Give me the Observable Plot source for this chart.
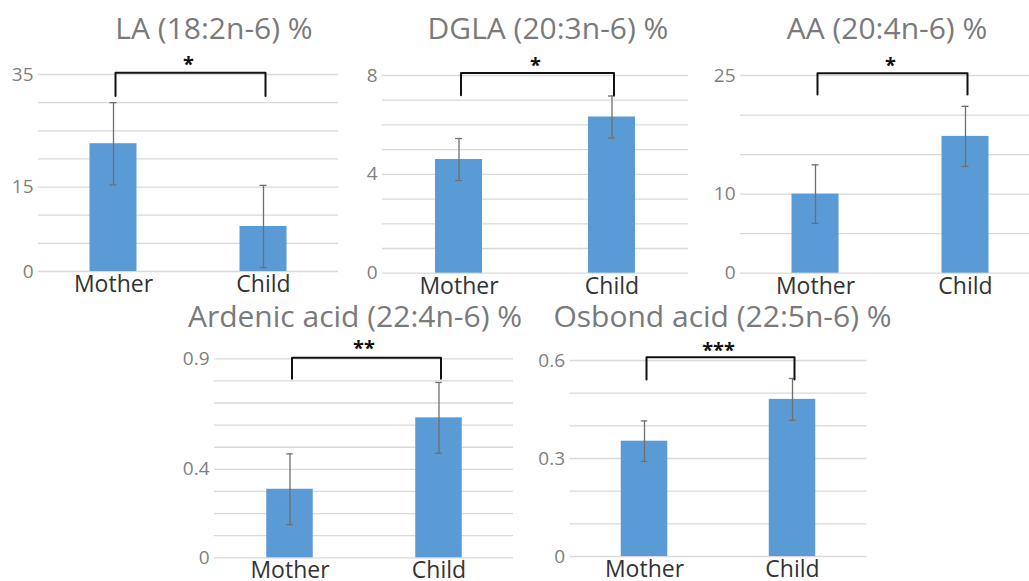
<!DOCTYPE html>
<html>
<head>
<meta charset="utf-8">
<script src="https://cdn.jsdelivr.net/npm/d3@7"></script>
<script src="https://cdn.jsdelivr.net/npm/@observablehq/plot@0.6"></script>
<style>
  html, body { margin: 0; padding: 0; background: #fff; overflow: hidden; }
  #wrap { position: relative; width: 1029px; height: 581px; overflow: hidden; background: #fff; font-family: "Open Sans", sans-serif; }
  .panel { position: absolute; }
  .ttl { position: absolute; transform: translateX(-50%); white-space: nowrap; color: #7a7a7a; font-size: 30px; line-height: 1; }
</style>
</head>
<body>
<div id="wrap"></div>
<script>
// ---- data ----
const groups = ["Mother", "Child"];
const titles = ["LA (18:2n-6) %", "DGLA (20:3n-6) %", "AA (20:4n-6) %", "Ardenic acid (22:4n-6) %", "Osbond acid (22:5n-6) %"];
const meanMother = [22.7, 4.6, 10.0, 0.31, 0.353];
const meanChild  = [8.0, 6.32, 17.3, 0.633, 0.481];
const errMother  = [7.3, 0.85, 3.7, 0.16, 0.062];
const errChild   = [7.3, 0.85, 3.8, 0.16, 0.064];
const yMax       = [35, 8, 25, 0.9, 0.6];
const gridStep   = [5, 1, 5, 0.1, 0.1];
const tickLabels = [[0, 15, 35], [0, 4, 8], [0, 10, 25], [0, 0.4, 0.9], [0, 0.3, 0.6]];
const stars      = ["*", "*", "*", "**", "***"];
const bracketTop = [35.3, 8.1, 25.3, 0.905, 0.61];
const bracketLeg = [31.2, 7.2, 22.6, 0.81, 0.542];

// ---- layout (pixels) ----
const layout = [
  {left: 0,   top: 40,  width: 350, height: 260, mL: 38,   mR: 12,   mT: 34,   mB: 29,   tx: 214,   ty: 13},
  {left: 340, top: 40,  width: 350, height: 260, mL: 42,   mR: 2,    mT: 35,   mB: 27.3, tx: 548,   ty: 13},
  {left: 690, top: 40,  width: 360, height: 260, mL: 50,   mR: 10,   mT: 35,   mB: 27.3, tx: 887,   ty: 13},
  {left: 160, top: 320, width: 360, height: 261, mL: 54,   mR: 7,    mT: 38.3, mB: 23.7, tx: 355,   ty: 301},
  {left: 520, top: 320, width: 360, height: 261, mL: 49.5, mR: 13.5, mT: 40,   mB: 25,   tx: 722.5, ty: 301}
];

const wrap = document.getElementById("wrap");

titles.forEach((title, i) => {
  const L = layout[i];
  const rows = groups.map((g, j) => ({
    group: g,
    mean: j === 0 ? meanMother[i] : meanChild[i],
    err: j === 0 ? errMother[i] : errChild[i]
  }));
  const bracket = [
    {group: groups[0], y: bracketLeg[i]},
    {group: groups[0], y: bracketTop[i]},
    {group: groups[1], y: bracketTop[i]},
    {group: groups[1], y: bracketLeg[i]}
  ];
  const frameW = L.width - L.mL - L.mR;
  const bw = 47;
  const inset = (frameW / 2 - bw) / 2;
  const capInset = (frameW / 2 - 7) / 2;
  const chart = Plot.plot({
    width: L.width,
    height: L.height,
    marginLeft: L.mL,
    marginRight: L.mR,
    marginTop: L.mT,
    marginBottom: L.mB,
    style: {fontFamily: "Open Sans, sans-serif", background: "transparent", overflow: "visible"},
    x: {domain: groups, padding: 0, label: null},
    y: {domain: [0, yMax[i]], label: null},
    marks: [
      Plot.gridY({interval: gridStep[i], stroke: "#d9d9d9", strokeOpacity: 1, strokeWidth: 1.3}),
      Plot.axisY({ticks: tickLabels[i], tickSize: 0, tickPadding: 5, fontSize: 19, fill: "#7f7f7f", label: null, tickFormat: d => String(d)}),
      Plot.axisX({tickSize: 0, tickPadding: 4, fontSize: 23, fill: "#333", label: null}),
      Plot.barY(rows, {x: "group", y: "mean", fill: "#5b9bd5", insetLeft: inset, insetRight: inset}),
      Plot.ruleX(rows, {x: "group", y1: d => d.mean - d.err, y2: d => d.mean + d.err, stroke: "#6f6f6f", strokeWidth: 1.3}),
      Plot.tickY(rows, {x: "group", y: d => d.mean + d.err, stroke: "#6f6f6f", strokeWidth: 1.3, insetLeft: capInset, insetRight: capInset}),
      Plot.tickY(rows, {x: "group", y: d => d.mean - d.err, stroke: "#6f6f6f", strokeWidth: 1.3, insetLeft: capInset, insetRight: capInset}),
      Plot.line(bracket, {x: "group", y: "y", stroke: "#111", strokeWidth: 2, strokeLinejoin: "round", dx: 2}),
      Plot.text([stars[i]], {text: d => d, frameAnchor: "top", dy: -18, fontSize: 20, fontWeight: "bold", fill: "#111"})
    ]
  });
  chart.classList.add("panel");
  chart.style.left = L.left + "px";
  chart.style.top = L.top + "px";
  wrap.appendChild(chart);

  const t = document.createElement("div");
  t.className = "ttl";
  t.textContent = title;
  t.style.left = L.tx + "px";
  t.style.top = L.ty + "px";
  wrap.appendChild(t);
});
</script>
</body>
</html>
